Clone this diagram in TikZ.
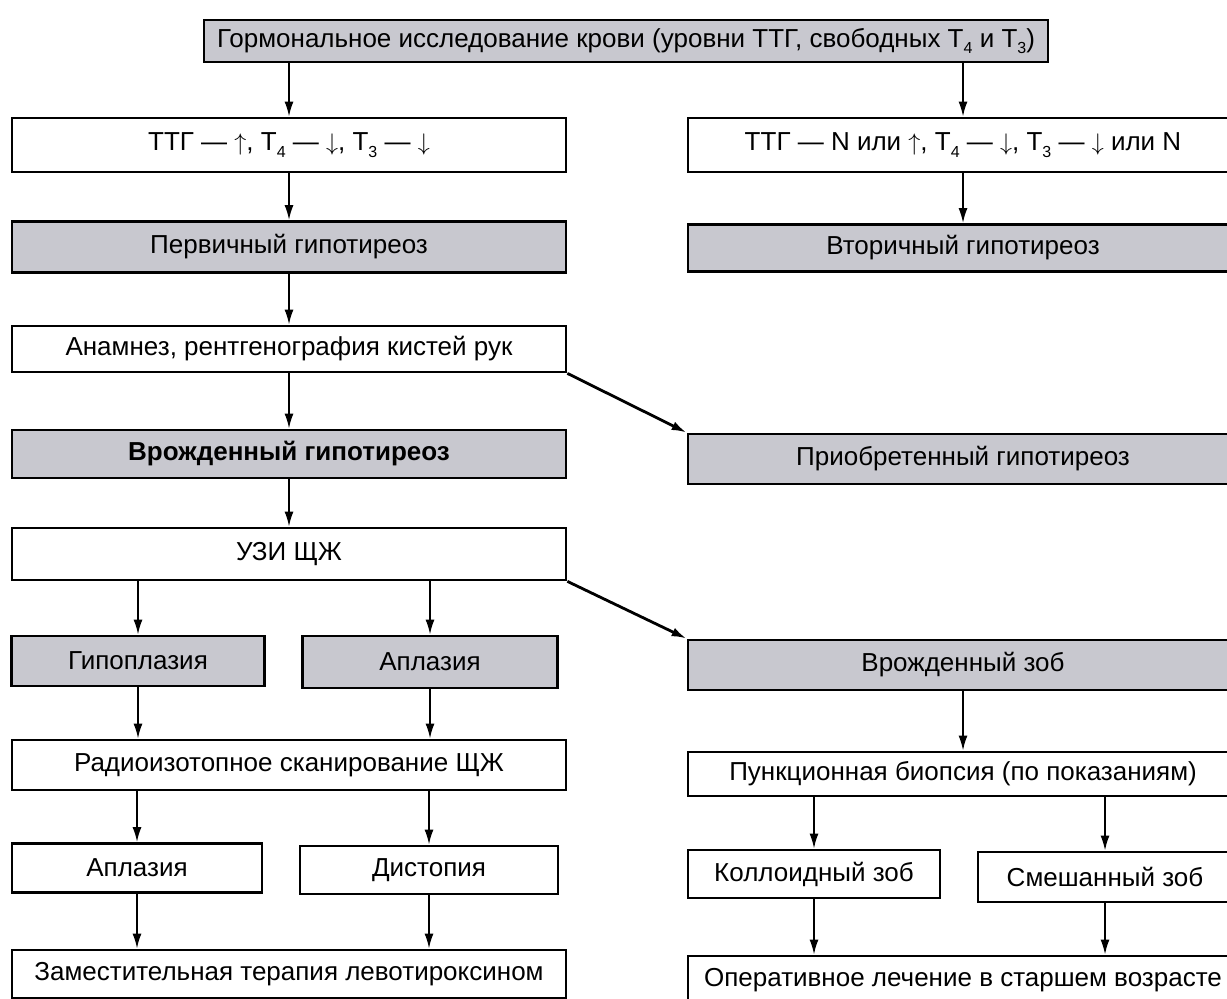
\documentclass[tikz,border=0pt]{standalone}
\usepackage{fontspec}
\setmainfont{Liberation Sans}
\usetikzlibrary{arrows.meta, positioning}
\definecolor{boxgray}{RGB}{200,200,207}
\newcommand{\Tsub}[1]{T\raisebox{-0.5ex}{\footnotesize #1}}
\newcommand{\up}{$\uparrow$}
\newcommand{\dn}{$\downarrow$}

\begin{document}
\begin{tikzpicture}[x=0.5pt, y=-0.5pt,
        every node/.style={font=\fontsize{13}{15}\selectfont},
        wbox/.style={draw, line width=1.4pt, fill=white, rectangle, inner sep=0pt},
        gbox/.style={wbox, fill=boxgray},
        arr/.style={-{Latex[length=7.5pt,width=4.5pt]}, line width=0.9pt},
        darr/.style={arr, line width=1.4pt}]
        \useasboundingbox (0,0) rectangle (1227,999);
        \clip (0,0) rectangle (1227,999);

        % left column
        \node[gbox, minimum width=422pt, minimum height=21pt] (horm) at (626,41) {Гормональное исследование крови (уровни ТТГ, свободных \Tsub{4} и \Tsub{3})};
        \node[wbox, minimum width=277pt, minimum height=27pt] (tsha) at (289,145) {ТТГ — \up, \Tsub{4} — \dn, \Tsub{3} — \dn};
        \node[gbox, minimum width=277pt, minimum height=25.5pt] (prim) at (289,247) {Первичный гипотиреоз};
        \node[wbox, minimum width=277pt, minimum height=23pt] (anam) at (289,349) {Анамнез, рентгенография кистей рук};
        \node[gbox, minimum width=277pt, minimum height=24pt] (cong) at (289,454) {\bfseries Врожденный гипотиреоз};
        \node[wbox, minimum width=277pt, minimum height=26pt] (uzi) at (289,554) {УЗИ ЩЖ};
        \node[gbox, minimum width=126.5pt, minimum height=25pt] (hypo) at (138,661) {Гипоплазия};
        \node[gbox, minimum width=127.5pt, minimum height=26pt] (apla) at (430,662) {Аплазия};
        \node[wbox, minimum width=277pt, minimum height=25pt] (scan) at (289,765) {Радиоизотопное сканирование ЩЖ};
        \node[wbox, minimum width=125pt, minimum height=24.5pt] (aplb) at (137,868) {Аплазия};
        \node[wbox, minimum width=129pt, minimum height=24pt] (dist) at (429,870) {Дистопия};
        \node[wbox, minimum width=277pt, minimum height=24pt] (ther) at (289,974) {Заместительная терапия левотироксином};

        % right column
        \node[wbox, minimum width=275pt, minimum height=27pt] (tshb) at (963,145) {ТТГ — N или \up, \Tsub{4} — \dn, \Tsub{3} — \dn{} или N};
        \node[gbox, minimum width=275pt, minimum height=23.5pt] (secn) at (963,248) {Вторичный гипотиреоз};
        \node[gbox, minimum width=275pt, minimum height=25pt] (acqd) at (963,459) {Приобретенный гипотиреоз};
        \node[gbox, minimum width=275pt, minimum height=25pt] (goit) at (963,665) {Врожденный зоб};
        \node[wbox, minimum width=275pt, minimum height=22pt] (biop) at (963,774) {Пункционная биопсия (по показаниям)};
        \node[wbox, minimum width=126pt, minimum height=24pt] (coll) at (814,874) {Коллоидный зоб};
        \node[wbox, minimum width=127pt, minimum height=25pt] (mixd) at (1105,877) {Смешанный зоб};
        \node[wbox, minimum width=275pt, minimum height=24pt] (oper) at (963,980) {Оперативное лечение в старшем возрасте};

        % arrows
        \draw[arr] (horm.south -| tsha.north) -- (tsha.north);
        \draw[arr] (horm.south -| tshb.north) -- (tshb.north);
        \draw[arr] (tsha) -- (prim);
        \draw[arr] (tshb) -- (secn);
        \draw[arr] (prim) -- (anam);
        \draw[arr] (anam) -- (cong);
        \draw[darr] (anam.south east) -- (acqd.north west);
        \draw[arr] (cong) -- (uzi);
        \draw[darr] (uzi.south east) -- (goit.north west);
        \draw[arr] (uzi.south -| hypo.north) -- (hypo.north);
        \draw[arr] (uzi.south -| apla.north) -- (apla.north);
        \draw[arr] (hypo.south) -- (hypo.south |- scan.north);
        \draw[arr] (apla.south) -- (apla.south |- scan.north);
        \draw[arr] (scan.south -| aplb.north) -- (aplb.north);
        \draw[arr] (scan.south -| dist.north) -- (dist.north);
        \draw[arr] (aplb.south) -- (aplb.south |- ther.north);
        \draw[arr] (dist.south) -- (dist.south |- ther.north);
        \draw[arr] (goit) -- (biop);
        \draw[arr] (biop.south -| coll.north) -- (coll.north);
        \draw[arr] (biop.south -| mixd.north) -- (mixd.north);
        \draw[arr] (coll.south) -- (coll.south |- oper.north);
        \draw[arr] (mixd.south) -- (mixd.south |- oper.north);
\end{tikzpicture}
\end{document}
